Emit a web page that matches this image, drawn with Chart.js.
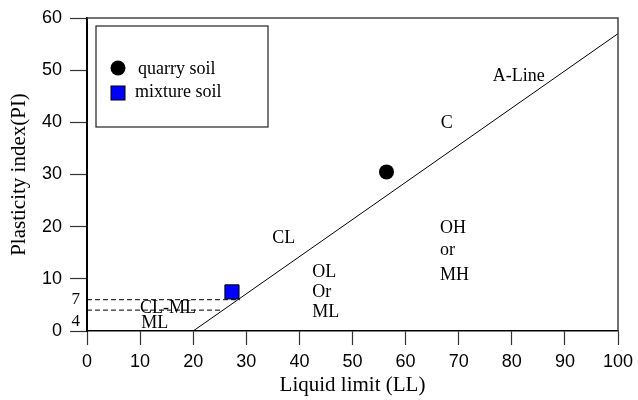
<!DOCTYPE html>
<html>
<head>
<meta charset="utf-8">
<script src="https://cdn.jsdelivr.net/npm/chart.js@4"></script>
<style>
  html, body { margin: 0; padding: 0; background: #fff; }
  #wrap { width: 638px; height: 400px; }
</style>
</head>
<body>
<div id="wrap"><canvas id="plasticity" width="638" height="400"></canvas></div>
<script>
// plasticity chart data
const xTicks = [0, 10, 20, 30, 40, 50, 60, 70, 80, 90, 100];
const yTicks = [0, 10, 20, 30, 40, 50, 60];

const aLineLL = [20, 100];
const aLinePI = [0, 57];

const quarryLL = [56.4];
const quarryPI = [30.5];
const mixtureLL = [27.3];
const mixturePI = [7.5];

const dashUpperLL = [0, 28.8];
const dashUpperPI = [6, 6];
const dashLowerLL = [0, 25.5];
const dashLowerPI = [4, 4];

// zone labels (left edge LL, baseline PI)
const zoneText = ['A-Line', 'C', 'CL', 'OL', 'Or', 'ML', 'OH', 'or', 'MH', 'CL-ML', 'ML'];
const zoneLL = [76.4, 66.6, 34.9, 42.4, 42.4, 42.4, 66.5, 66.5, 66.5, 10.0, 10.2];
const zonePI = [48.0, 39.0, 16.8, 10.4, 6.6, 2.7, 18.8, 14.6, 9.8, 3.4, 0.5];

// extra labels left of the y axis
const limitText = ['7', '4'];
const limitPI = [6.1, 1.8];

const legendNames = ['quarry soil', 'mixture soil'];

const toPts = (xs, ys) => xs.map((x, i) => ({ x: x, y: ys[i] }));

const serif = '"Liberation Serif", "Times New Roman", serif';
const sans = '"Liberation Sans", Arial, sans-serif';

// frame, text labels and the boxed legend
const extrasPlugin = {
    id: 'extras',
    afterDraw(chart) {
        const ctx = chart.ctx;
        const area = chart.chartArea;
        const xs = chart.scales.x;
        const ys = chart.scales.y;
        ctx.save();

        // top and right frame
        ctx.strokeStyle = '#444';
        ctx.lineWidth = 1.5;
        ctx.beginPath();
        ctx.moveTo(area.left, area.top);
        ctx.lineTo(area.right, area.top);
        ctx.lineTo(area.right, area.bottom);
        ctx.stroke();

        // zone labels
        ctx.fillStyle = '#000';
        ctx.font = '18px ' + serif;
        ctx.textAlign = 'left';
        ctx.textBaseline = 'alphabetic';
        zoneText.forEach((t, i) => {
            ctx.fillText(t, xs.getPixelForValue(zoneLL[i]), ys.getPixelForValue(zonePI[i]));
        });

        // 7 / 4 markers
        ctx.font = '17px ' + serif;
        ctx.textAlign = 'right';
        ctx.textBaseline = 'middle';
        limitText.forEach((t, i) => {
            ctx.fillText(t, area.left - 7, ys.getPixelForValue(limitPI[i]));
        });

        // legend box
        ctx.strokeStyle = '#222';
        ctx.lineWidth = 1.2;
        ctx.strokeRect(96, 26, 172, 101);

        ctx.fillStyle = '#000';
        ctx.beginPath();
        ctx.arc(118, 68, 7.5, 0, Math.PI * 2);
        ctx.fill();

        ctx.fillStyle = '#0000ff';
        ctx.fillRect(111, 86, 14, 14);
        ctx.strokeStyle = '#000';
        ctx.lineWidth = 1;
        ctx.strokeRect(111, 86, 14, 14);

        ctx.fillStyle = '#000';
        ctx.font = '18px ' + serif;
        ctx.textAlign = 'left';
        ctx.textBaseline = 'middle';
        ctx.fillText(legendNames[0], 138, 69);
        ctx.fillText(legendNames[1], 135, 92);

        ctx.restore();
    }
};

const ctx = document.getElementById('plasticity').getContext('2d');
new Chart(ctx, {
    type: 'scatter',
    data: {
        datasets: [
            {
                label: 'A-Line',
                type: 'line',
                data: toPts(aLineLL, aLinePI),
                borderColor: '#000',
                borderWidth: 1,
                pointRadius: 0,
                fill: false,
                order: 3
            },
            {
                label: 'limit 7',
                type: 'line',
                data: toPts(dashUpperLL, dashUpperPI),
                borderColor: '#000',
                borderWidth: 1,
                borderDash: [5, 3],
                pointRadius: 0,
                fill: false,
                order: 3
            },
            {
                label: 'limit 4',
                type: 'line',
                data: toPts(dashLowerLL, dashLowerPI),
                borderColor: '#000',
                borderWidth: 1,
                borderDash: [5, 3],
                pointRadius: 0,
                fill: false,
                order: 3
            },
            {
                label: legendNames[0],
                data: toPts(quarryLL, quarryPI),
                pointStyle: 'circle',
                pointRadius: 7.5,
                backgroundColor: '#000',
                borderColor: '#000',
                borderWidth: 0,
                order: 1
            },
            {
                label: legendNames[1],
                data: toPts(mixtureLL, mixturePI),
                pointStyle: 'rect',
                pointRadius: 10,
                backgroundColor: '#0000ff',
                borderColor: '#000',
                borderWidth: 1,
                order: 1
            }
        ]
    },
    options: {
        responsive: false,
        animation: false,
        events: [],
        layout: { padding: { top: 18, right: 20, left: 0, bottom: 0 } },
        plugins: {
            legend: { display: false },
            tooltip: { enabled: false }
        },
        scales: {
            x: {
                type: 'linear',
                min: 0,
                max: 100,
                afterBuildTicks: (s) => { s.ticks = xTicks.map(v => ({ value: v })); },
                afterFit: (s) => { s.height = 69; s.paddingLeft = 0; s.paddingRight = 0; },
                grid: {
                    drawOnChartArea: false,
                    drawTicks: true,
                    tickLength: 14,
                    tickColor: '#333',
                    tickWidth: 1.2
                },
                border: { display: true, color: '#000', width: 1.5 },
                ticks: {
                    color: '#000',
                    font: { family: sans, size: 18 },
                    padding: 6,
                    maxRotation: 0
                },
                title: {
                    display: true,
                    text: 'Liquid limit (LL)',
                    color: '#000',
                    font: { family: serif, size: 21 },
                    padding: { top: 0, bottom: 2 }
                }
            },
            y: {
                type: 'linear',
                min: 0,
                max: 60,
                afterBuildTicks: (s) => { s.ticks = yTicks.map(v => ({ value: v })); },
                afterFit: (s) => { s.width = 87; s.paddingTop = 0; s.paddingBottom = 0; },
                grid: {
                    drawOnChartArea: false,
                    drawTicks: true,
                    tickLength: 17,
                    tickColor: '#333',
                    tickWidth: 1.2
                },
                border: { display: true, color: '#000', width: 2 },
                ticks: {
                    color: '#000',
                    font: { family: sans, size: 18 },
                    padding: 8
                },
                title: {
                    display: true,
                    text: 'Plasticity index(PI)',
                    color: '#000',
                    font: { family: serif, size: 21 },
                    padding: { top: 7, bottom: 0 }
                }
            }
        }
    },
    plugins: [extrasPlugin]
});
</script>
</body>
</html>
